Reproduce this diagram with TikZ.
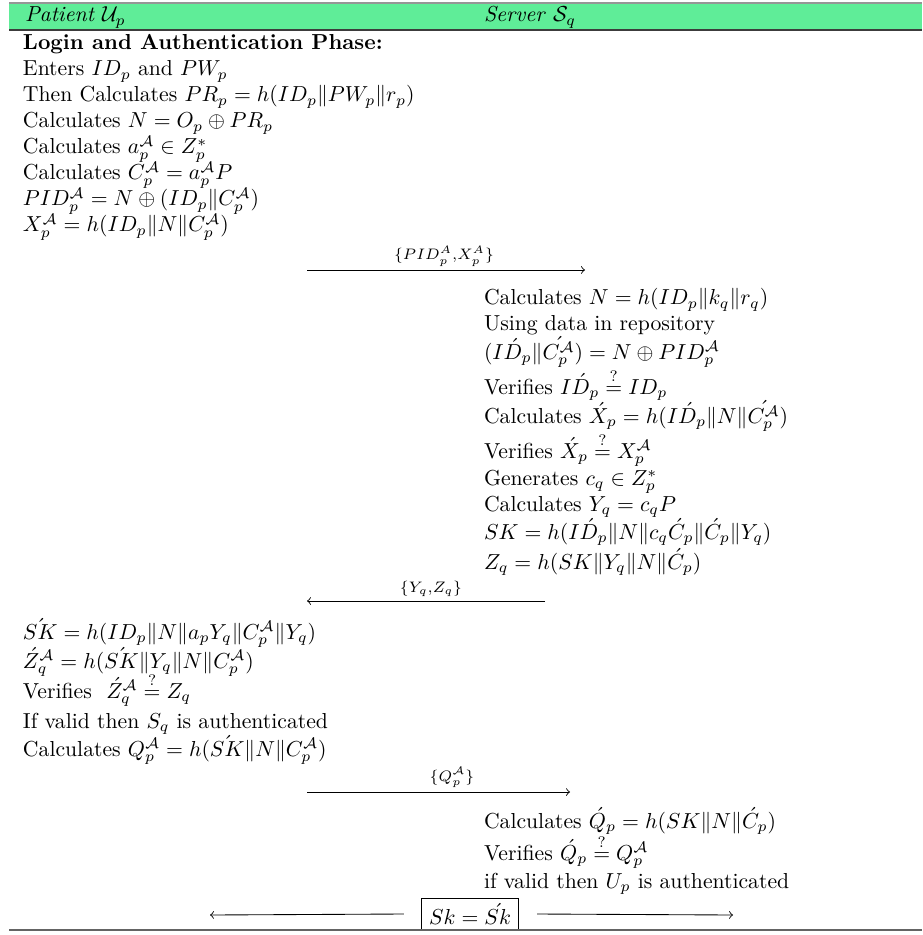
\documentclass[tikz,border=0pt]{standalone}
\usepackage{amsmath,amssymb}
\definecolor{hdrgreen}{RGB}{95,237,152}
\definecolor{hdrtop}{RGB}{150,150,150}
\definecolor{hdrbot}{RGB}{60,60,60}
\definecolor{rulegray}{RGB}{100,100,100}
\tikzset{
  txt/.style={anchor=base west, inner sep=0pt, outer sep=0pt},
  msglab/.style={anchor=base, inner sep=0pt, font=\scriptsize},
  msg/.style={->, >=to, line width=0.4pt},
  keybox/.style={draw, line width=0.4pt, inner xsep=3.6pt, inner ysep=2.4pt}
}
\begin{document}
\begin{tikzpicture}[x=0.461pt, y=-0.461pt]
\useasboundingbox (0,0) rectangle (922,935);
% header
\fill[hdrgreen] (9,3) rectangle (922,30);
\draw[hdrtop, line width=0.6pt] (9,3) -- (922,3);
\draw[hdrbot, line width=0.8pt] (9,30) -- (922,30);
\node[txt] (hp) at (25,22) {\textit{Patient} $\mathcal{U}_p$};
\node[txt] (hs) at (484,22) {\textit{Server} $\mathcal{S}_q$};
% left block 1
\node[txt] (l0) at (23,50) {\textbf{Login and Authentication Phase:}};
\node[txt] (l1) at (23,76) {Enters $ID_p$ and $PW_p$};
\node[txt] (l2) at (23,102) {Then Calculates $PR_p=h(ID_p\|PW_p\|r_p)$};
\node[txt] (l3) at (23,128) {Calculates $N=O_p\oplus PR_p$};
\node[txt] (l4) at (23,154) {Calculates $a_p^{\mathcal{A}}\in Z_p^*$};
\node[txt] (l5) at (23,180) {Calculates $C_p^{\mathcal{A}}=a_p^{\mathcal{A}}P$};
\node[txt] (l6) at (23,206) {$PID_p^{\mathcal{A}}=N\oplus(ID_p\|C_p^{\mathcal{A}})$};
\node[txt] (l7) at (23,232) {$X_p^{\mathcal{A}}=h(ID_p\|N\|C_p^{\mathcal{A}})$};
% message 1
\coordinate (m1s) at (307,270);
\coordinate (m1e) at (585,270);
\draw[msg] (m1s) -- (m1e);
\node[msglab] (m1l) at (444,260) {$\{PID_p^{A}{,}X_p^{A}\}$};
% right block 1
\node[txt] (r1) at (484,305) {Calculates $N=h(ID_p\|k_q\|r_q)$};
\node[txt] (r2) at (484,331) {Using data in repository};
\node[txt] (r3) at (484,359) {$(I\acute{D}_p\|\acute{C_p^{\mathcal{A}}})=N\oplus PID_p^{\mathcal{A}}$};
\node[txt] (r4) at (484,394) {Verifies $I\acute{D}_p\stackrel{?}{=}ID_p$};
\node[txt] (r5) at (484,423) {Calculates $\acute{X}_p=h(I\acute{D}_p\|N\|\acute{C_p^{\mathcal{A}}})$};
\node[txt] (r6) at (484,458) {Verifies $\acute{X}_p\stackrel{?}{=}X_p^{\mathcal{A}}$};
\node[txt] (r7) at (484,485) {Generates $c_q\in Z_p^*$};
\node[txt] (r8) at (484,511) {Calculates $Y_q=c_qP$};
\node[txt] (r9) at (484,539) {$SK=h(I\acute{D}_p\|N\|c_q\acute{C}_p\|\acute{C}_p\|Y_q)$};
\node[txt] (r10) at (484,569) {$Z_q=h(SK\|Y_q\|N\|\acute{C}_p)$};
% message 2
\coordinate (m2s) at (545,601);
\coordinate (m2e) at (307,601);
\draw[msg] (m2s) -- (m2e);
\node[msglab] (m2l) at (431,592) {$\{Y_q{,}Z_q\}$};
% left block 2
\node[txt] (p1) at (23,639) {$\acute{SK}=h(ID_p\|N\|a_pY_q\|C_p^{\mathcal{A}}\|Y_q)$};
\node[txt] (p2) at (23,668) {$\acute{Z}_q^{\mathcal{A}}=h(\acute{SK}\|Y_q\|N\|C_p^{\mathcal{A}})$};
\node[txt] (p3) at (23,698) {Verifies \ $\acute{Z}_q^{\mathcal{A}}\stackrel{?}{=}Z_q$};
\node[txt] (p4) at (23,728) {If valid then $S_q$ is authenticated};
\node[txt] (p5) at (23,756) {Calculates $Q_p^{\mathcal{A}}=h(\acute{SK}\|N\|C_p^{\mathcal{A}})$};
% message 3
\coordinate (m3s) at (307,792);
\coordinate (m3e) at (570,792);
\draw[msg] (m3s) -- (m3e);
\node[msglab] (m3l) at (452,781) {$\{Q_p^{\mathcal{A}}\}$};
% right block 2
\node[txt] (s1) at (484,828) {Calculates $\acute{Q}_p=h(SK\|N\|\acute{C}_p)$};
\node[txt] (s2) at (484,860) {Verifies $\acute{Q}_p\stackrel{?}{=}Q_p^{\mathcal{A}}$};
\node[txt] (s3) at (484,888) {if valid then $U_p$ is authenticated};
% session key
\node[keybox] (key) at (470,914) {$Sk=\acute{Sk}$};
\coordinate (kl) at (210,915);
\coordinate (kr) at (733,915);
\draw[msg] ([xshift=-17*0.461pt]key.west) -- (kl);
\draw[msg] ([xshift=18*0.461pt]key.east) -- (kr);
% bottom rule
\draw[rulegray, line width=1pt] (9,930) -- (922,930);
\end{tikzpicture}
\end{document}
